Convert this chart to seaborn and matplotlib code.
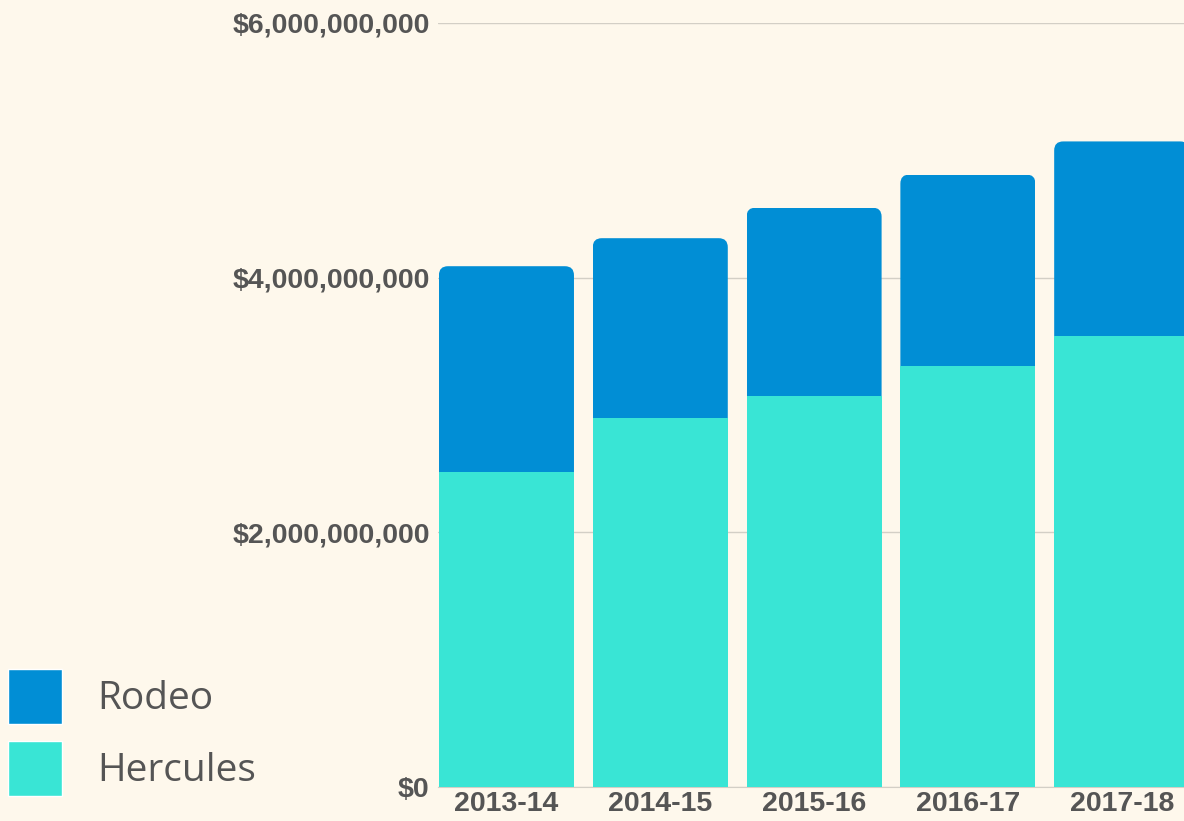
import matplotlib
matplotlib.use("Agg")
import pandas as pd
import matplotlib.pyplot as plt
import seaborn as sns
from matplotlib.patches import FancyBboxPatch, Patch

# Werte (Dollar)
seasons = ['2013-14', '2014-15', '2015-16', '2016-17', '2017-18']
hercules = [2.47e9, 2.90e9, 3.07e9, 3.31e9, 3.54e9]
rodeo = [1.62e9, 1.41e9, 1.48e9, 1.50e9, 1.53e9]
y_ticks = [0, 2e9, 4e9, 6e9]

BG = '#fef8ec'
RODEO_COLOR = '#018ed5'
HERCULES_COLOR = '#39e5d5'
TEXT = '#555555'
GRID = '#d3cfc6'

sns.set_style('white', {'axes.facecolor': BG, 'figure.facecolor': BG})
plt.rcParams['font.family'] = ['Liberation Sans', 'DejaVu Sans']

df = pd.DataFrame({'season': seasons, 'Hercules': hercules, 'Rodeo': rodeo})
df['total'] = df['Hercules'] + df['Rodeo']

W, H = 1184, 821
fig = plt.figure(figsize=(W / 100, H / 100), dpi=100)
ax = fig.add_axes([438 / W, 34 / H, 1 - 438 / W, 764 / H])

# gestapelt: erst Gesamt (Rodeo oben), dann Hercules darüber
sns.barplot(data=df, x='season', y='total', color=RODEO_COLOR, width=0.878,
            saturation=1, errorbar=None, linewidth=0, ax=ax, zorder=2)
sns.barplot(data=df, x='season', y='Hercules', color=HERCULES_COLOR, width=0.878,
            saturation=1, errorbar=None, linewidth=0, ax=ax, zorder=3)

ax.set_xlim(-0.445, 4.405)
ax.set_ylim(0, 6e9)
ax.set_xlabel('')
ax.set_ylabel('')

# Achsen / Grid
ax.set_yticks(y_ticks)
ax.set_yticklabels([f'${v:,.0f}' for v in y_ticks])
ax.yaxis.grid(True, color=GRID, linewidth=1)
ax.set_axisbelow(True)
for side in ['left', 'top', 'right']:
    ax.spines[side].set_visible(False)
ax.spines['bottom'].set_color(GRID)
ax.tick_params(axis='both', length=0, labelsize=20.5, labelcolor=TEXT)
ax.tick_params(axis='y', pad=6)
ax.tick_params(axis='x', pad=3)
for lbl in ax.get_xticklabels() + ax.get_yticklabels():
    lbl.set_fontweight('bold')

# abgerundete obere Ecken der Rodeo-Balken
x_px = ax.bbox.width / (4.405 + 0.445)
y_px = ax.bbox.height / 6e9
r_px = 9
for bar in ax.patches[:len(seasons)]:
    x0, w = bar.get_x(), bar.get_width()
    top = bar.get_y() + bar.get_height()
    clip = FancyBboxPatch((x0, 0), w, top,
                          boxstyle=f'round,pad=0,rounding_size={r_px / x_px}',
                          mutation_aspect=x_px / y_px, transform=ax.transData,
                          facecolor='none', edgecolor='none')
    bar.set_clip_path(clip)

# Legende unten links
handles = [Patch(facecolor=RODEO_COLOR, label='Rodeo'),
           Patch(facecolor=HERCULES_COLOR, label='Hercules')]
fig.legend(handles=handles, loc='lower left', bbox_to_anchor=(8 / W, 25 / H),
           frameon=False, prop={'family': 'Open Sans', 'size': 28},
           handlelength=1.39, handleheight=1.78, labelspacing=0.46,
           handletextpad=0.9, borderpad=0, borderaxespad=0, labelcolor=TEXT)

fig.savefig('out.png', dpi=100, facecolor=BG)
